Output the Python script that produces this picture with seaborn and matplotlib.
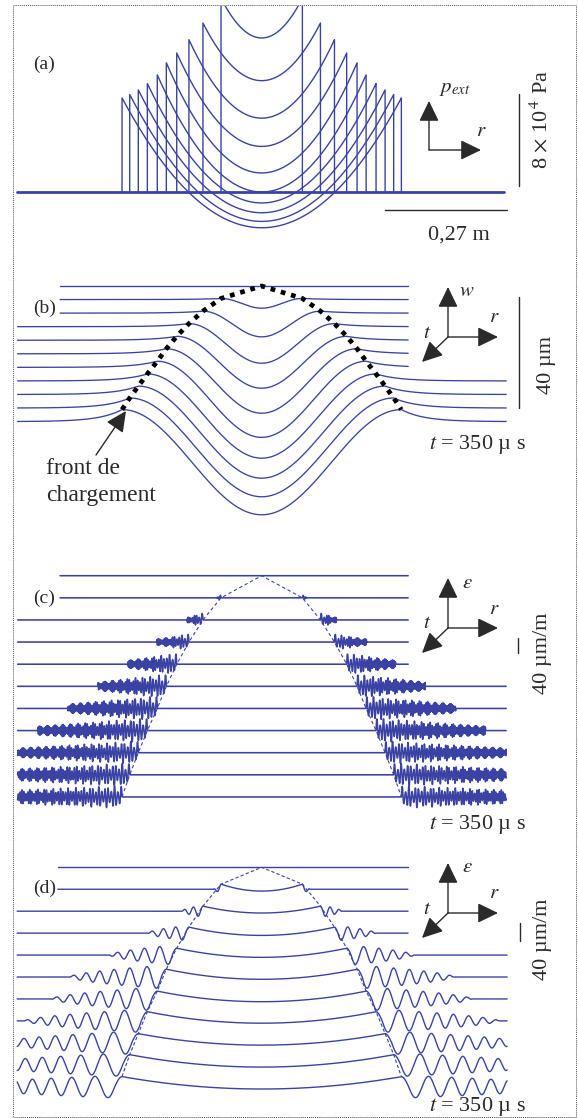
import numpy as np
import pandas as pd
import matplotlib
matplotlib.use("Agg")
import matplotlib.pyplot as plt
import seaborn as sns
from matplotlib.patches import Rectangle, FancyArrowPatch

# ------------------------------------------------------------------ data
times_us = [0, 35, 70, 105, 140, 175, 210, 245, 280, 315, 350]
front_r_m = [0.0, 0.090, 0.130, 0.161, 0.188, 0.211, 0.231, 0.253, 0.273, 0.292, 0.309]

# (a) external pressure at the loading front and at the centre, kPa (t = 35 ... 350 us)
p_front_kpa = [168.0, 146.5, 132.0, 120.5, 112.0, 101.5, 94.0, 88.5, 84.5, 81.5]
p_centre_kpa = [133.5, 96.5, 64.0, 39.5, 16.5, 0.0, -9.5, -18.0, -25.5, -31.0]
p_span_m = [-0.542, 0.536]

# (b) deflection w, um
w_centre_um = [0.0, -3.1, -8.5, -13.1, -17.2, -21.3, -25.1, -27.7, -30.0, -31.8, -33.4]
w_front_um = [0.0, 0.4, 0.7, 1.1, 1.4, 1.8, 2.2, 2.5, 3.0, 3.6, 4.3]
w_precursor_m = 0.05
w_shift_um = 4.86
w_left_m = [-0.446] * 3 + [-0.540] * 8
w_right_m = [0.324] * 7 + [0.541] * 4

# (c) strain eps (fine model), um/m
c_packet_end_m = [0.0, 0.099, 0.165, 0.232, 0.296, 0.362, 0.429, 0.495, 0.561, 0.628, 0.694]
c_packet_amp = [0, 8, 19, 22, 29, 32, 33, 33, 31, 31, 30]
c_wavelength_front_m = 0.0075
c_wavelength_end_m = 0.0016
c_shift = 59.0
c_left_m = [-0.446] * 2 + [-0.540] * 9
c_right_m = [0.324] * 5 + [0.541] * 6

# (d) strain eps (smoothed model), um/m
d_centre = [0, -4, -4, -5, -5, -5, -6, -5, -5, -5, -5]
d_front = [0, 11, 11, 13, 15, 17, 17, 20, 20, 22, 22]
d_wave_end_m = [0.0, 0.106, 0.177, 0.252, 0.336, 0.425, 0.465, 0.524, 0.586, 0.642, 0.697]
d_wave_amp = [0, 8, 13, 17, 22, 26, 26, 26, 26, 26, 25]
d_wavelength_m = [0, 0.018, 0.022, 0.031, 0.040, 0.046, 0.051, 0.055, 0.060, 0.064, 0.066]
d_chirp_m = 0.30
d_shift = 47.7
d_left_m = [-0.451] * 2 + [-0.541] * 9
d_right_m = [0.324] * 4 + [0.543] * 7

# scale bars
bar_r_m = 0.27
bar_p_kpa = 80
bar_w_um = 40
bar_eps = 40

# ------------------------------------------------------------------ style
sns.set_theme(style="white")
plt.rcParams["font.family"] = ["Liberation Serif", "DejaVu Serif"]
plt.rcParams["mathtext.fontset"] = "stix"

BLUE = "#3a43a3"
INK = "#2a2a2a"
W, H = 578, 1118
fig = plt.figure(figsize=(W / 100, H / 100), dpi=100)
fig.patch.set_facecolor("white")

R_LIM = (-261.7 / 452, (W - 261.7) / 452)


def make_axes(top_px, bot_px, ref_px, px_per_unit):
    ax = fig.add_axes([0, 1 - bot_px / H, 1, (bot_px - top_px) / H])
    ax.set_xlim(*R_LIM)
    ax.set_ylim((ref_px - bot_px) / px_per_unit, (ref_px - top_px) / px_per_unit)
    ax.axis("off")
    return ax


def draw(ax, df, y, **kw):
    sns.lineplot(data=df, x="r", y=y, units="unit", estimator=None, sort=False,
                 legend=False, ax=ax, **kw)


def fp(x, y):
    return (x / W, 1 - y / H)


def front_path(values):
    n = len(times_us)
    rr = [-front_r_m[k] for k in range(n - 1, 0, -1)] + [0.0] + front_r_m[1:]
    vv = [values[k] for k in range(n - 1, 0, -1)] + [values[0]] + [values[k] for k in range(1, n)]
    return rr, vv


# ------------------------------------------------------------------ (a)
axa = make_axes(6, 255, 192, 92.3 / 80)
rows = []
for i in range(len(p_front_kpa)):
    R = front_r_m[i + 1]
    rr = np.linspace(-R, R, 241)
    pp = p_centre_kpa[i] + (p_front_kpa[i] - p_centre_kpa[i]) * (rr / R) ** 2
    xs = np.concatenate([[-R], rr, [R]])
    ys = np.concatenate([[0.0], pp, [0.0]])
    rows.append(pd.DataFrame({"r": xs, "p": ys, "unit": i}))
dfa = pd.concat(rows)
draw(axa, dfa, "p", color=BLUE, lw=1.0)
sns.lineplot(x=p_span_m, y=[0, 0], ax=axa, color=BLUE, lw=2.0, legend=False)
axa.plot([0.569, 0.569], [5.2, 5.2 + bar_p_kpa], color=INK, lw=1.0)
axa.plot([0.273, 0.273 + bar_r_m], [-15.6, -15.6], color=INK, lw=1.0)

# ------------------------------------------------------------------ (b)
axb = make_axes(258, 545, 286, 2.79)
rows = []
for k in range(len(times_us)):
    r = np.arange(w_left_m[k], w_right_m[k] + 1e-9, 0.001)
    R = front_r_m[k]
    off = -k * w_shift_um
    if k == 0:
        w = np.zeros_like(r)
    else:
        a = np.abs(r)
        B, D = w_front_um[k], w_centre_um[k]
        inside = B + (D - B) * 0.5 * (1 + np.cos(np.pi * np.clip(a / R, 0, 1)))
        outside = B * np.exp(-(a - R) / w_precursor_m)
        w = np.where(a <= R, inside, outside)
    rows.append(pd.DataFrame({"r": r, "w": w + off, "unit": k}))
dfb = pd.concat(rows)
draw(axb, dfb, "w", color=BLUE, lw=0.95)
dot_r, dot_w = front_path([-k * w_shift_um + w_front_um[k] for k in range(len(times_us))])
sns.lineplot(x=dot_r, y=dot_w, sort=False, ax=axb, color="black", lw=3.4,
             ls=(0, (1.0, 1.25)), legend=False, zorder=5)
axb.plot([0.569, 0.569], [-3.8, -3.8 - bar_w_um], color=INK, lw=1.0)

# ------------------------------------------------------------------ (c)
axc = make_axes(552, 848, 575.7, 0.375)
rows = []
for k in range(len(times_us)):
    r = np.arange(c_left_m[k], c_right_m[k] + 1e-9, 0.00015)
    eps = np.zeros_like(r)
    if k > 0:
        R = front_r_m[k]
        S = c_packet_end_m[k] - R
        s = np.abs(r) - R
        m = (s >= 0) & (s <= S)
        u = s[m] / S
        lf, lo = c_wavelength_front_m, c_wavelength_end_m
        lam = lf + (lo - lf) * u
        phase = 2 * np.pi * S / (lo - lf) * np.log(lam / lf)
        env = c_packet_amp[k] * (1 - 0.65 * u) * (0.72 + 0.28 * np.cos(2 * np.pi * s[m] / 0.017))
        eps[m] = env * np.sin(phase)
    rows.append(pd.DataFrame({"r": r, "e": eps - k * c_shift, "unit": k}))
dfc = pd.concat(rows)
draw(axc, dfc, "e", color=BLUE, lw=1.15)
dash_r, dash_c = front_path([-k * c_shift for k in range(len(times_us))])
sns.lineplot(x=dash_r, y=dash_c, sort=False, ax=axc, color=BLUE, lw=0.8,
             ls=(0, (3, 2.5)), legend=False)
axc.plot([0.567, 0.567], [-166, -166 - bar_eps], color=INK, lw=1.0)

# ------------------------------------------------------------------ (d)
axd = make_axes(848, 1118, 867.3, 0.46)
rows = []
for k in range(len(times_us)):
    r = np.arange(d_left_m[k], d_right_m[k] + 1e-9, 0.0008)
    eps = np.zeros_like(r)
    if k > 0:
        R = front_r_m[k]
        a = np.abs(r)
        S = d_wave_end_m[k] - R
        s = a - R
        inside = d_centre[k] + (d_front[k] - d_centre[k]) * (a / R) ** 2
        sc = np.clip(s, 0, S)
        taper = np.clip(1 - sc / S, 0, 1) ** 0.6
        ph = 2 * np.pi / d_wavelength_m[k] * (sc + sc ** 2 / (2 * d_chirp_m))
        amp0 = np.where(sc < d_wavelength_m[k] * 0.25, d_front[k], d_wave_amp[k])
        outside = np.where(s <= S, amp0 * taper * np.cos(ph), 0.0)
        eps = np.where(a <= R, inside, outside)
    rows.append(pd.DataFrame({"r": r, "e": eps - k * d_shift, "unit": k}))
dfd = pd.concat(rows)
draw(axd, dfd, "e", color=BLUE, lw=1.0)
dash_r, dash_d = front_path([-k * d_shift + d_front[k] for k in range(len(times_us))])
sns.lineplot(x=dash_r, y=dash_d, sort=False, ax=axd, color=BLUE, lw=0.8,
             ls=(0, (3, 2.0)), legend=False)
axd.plot([0.571, 0.571], [-121, -121 - bar_eps], color=INK, lw=1.0)

# ------------------------------------------------------------------ annotations
TXT = dict(color=INK, ha="center", va="center")
for lab, (x, y) in zip(["(a)", "(b)", "(c)", "(d)"],
                       [(44, 64), (45, 308), (44, 598), (45, 888)]):
    fig.text(*fp(x, y), lab, fontsize=14, **TXT)

fig.text(*fp(459, 235), "0,27 m", fontsize=16, **TXT)
fig.text(*fp(541, 119), r"8 $\times$ 10$^{\,4}$ Pa", fontsize=16, rotation=90, **TXT)
fig.text(*fp(546, 365), "40 µm", fontsize=16, rotation=90, **TXT)
fig.text(*fp(543, 653), "40 µm/m", fontsize=16, rotation=90, **TXT)
fig.text(*fp(542, 939), "40 µm/m", fontsize=16, rotation=90, **TXT)
for y in (445, 825, 1106):
    fig.text(*fp(477, y), r"$t$ = 350 µ s", fontsize=16, **TXT)

fig.text(*fp(46, 469), "front de", fontsize=17, color=INK, ha="left", va="center")
fig.text(*fp(46, 496), "chargement", fontsize=17, color=INK, ha="left", va="center")


def arrow(x0, y0, x1, y1, head=1.0, lw=1.0):
    fig.add_artist(FancyArrowPatch(fp(x0, y0), fp(x1, y1), transform=fig.transFigure,
                                   arrowstyle=f"-|>,head_length={0.7*head},head_width={0.34*head}",
                                   mutation_scale=18, lw=lw, color=INK,
                                   shrinkA=0, shrinkB=0))


arrow(96, 455, 126, 411, head=1.0, lw=1.0)  # "front de chargement" pointer

# axis icons
arrow(429, 150, 429, 101)
arrow(429, 150, 481, 150)
fig.text(*fp(455, 89), r"$p_{ext}$", fontsize=15, **TXT)
fig.text(*fp(481, 132), r"$r$", fontsize=15, **TXT)

for (ox, oy, lab) in [(448, 337, r"$w$"), (448, 628, r"$\varepsilon$"), (448, 913, r"$\varepsilon$")]:
    arrow(ox, oy, ox, oy - 50)
    arrow(ox, oy, ox + 50, oy)
    arrow(ox, oy, ox - 26, oy + 25)
    fig.text(*fp(ox + 19, oy - 45), lab, fontsize=15, **TXT)
    fig.text(*fp(ox + 46, oy - 19), r"$r$", fontsize=15, **TXT)
    fig.text(*fp(ox - 21, oy - 4), r"$t$", fontsize=15, **TXT)

# dotted frame
fig.add_artist(Rectangle(fp(13, 1117), (576 - 13) / W, (1117 - 5) / H, transform=fig.transFigure,
                         fill=False, ls=(0, (1, 1)), lw=0.7, ec="#555555"))

fig.savefig("out.png", dpi=100, facecolor="white")
